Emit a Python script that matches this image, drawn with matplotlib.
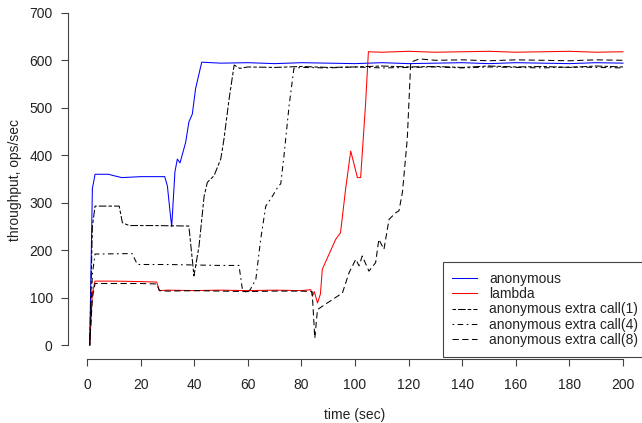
import matplotlib
matplotlib.use("Agg")
import matplotlib.pyplot as plt

plt.rcParams['font.family'] = ['Liberation Sans', 'DejaVu Sans']
plt.rcParams['font.size'] = 10
plt.rcParams['lines.scale_dashes'] = False

# anonymous (blue)
t_anon = [1, 2, 3, 8, 10, 13, 20, 29, 30, 31, 31.6, 32.8, 33.7, 34.7, 36.8, 38, 39.3, 40.5, 42.8,
          50, 60, 70, 80, 90, 100, 110, 120, 130, 140, 150, 160, 170, 180, 190, 200]
v_anon = [0, 330, 360, 360, 357, 353, 355, 355, 335, 280, 250, 365, 392, 384, 427, 470, 487, 540, 596,
          594, 595, 593, 595, 594, 593, 595, 593, 594, 595, 593, 595, 594, 593, 595, 594]

# lambda (red)
t_lambda = [1, 2, 3, 10, 20, 26, 27, 30, 40, 50, 60, 70, 80, 83.5, 84.1, 84.8, 86, 87.1, 87.8,
            92.8, 94.6, 96.5, 98.4, 100.9, 102.1, 103.9, 105, 110, 120, 130, 140, 150, 160,
            170, 180, 190, 200]
v_lambda = [0, 110, 135, 135, 134, 133, 115, 116, 115, 116, 115, 116, 115, 117, 103, 113, 89, 108, 160,
            223, 237, 329, 409, 353, 353, 504, 618, 617, 619, 617, 618, 619, 617,
            618, 619, 617, 618]

# anonymous extra call(1)
t_extra1 = [1, 2, 3, 12, 13.2, 15.7, 25, 38, 39.9, 41.8, 43.7, 44.9, 47.4, 49.9, 51.1, 53, 54.9,
            57, 60, 70, 80, 90, 100, 110, 120, 130, 140, 150, 160, 170, 180, 190, 200]
v_extra1 = [0, 250, 293, 293, 258, 252, 252, 251, 146, 209, 314, 343, 357, 392, 434, 518, 590,
            583, 586, 585, 587, 585, 586, 588, 586, 587, 585, 588, 586, 587, 585, 588, 586]

# anonymous extra call(4)
t_extra4 = [1, 2, 3, 16.8, 18.8, 30, 40, 50, 56.7, 58, 59.8, 61, 63, 64.8, 66.7, 69.2, 71.4,
            72.3, 73.5, 75.4, 77.2, 80, 90, 100, 110, 120, 130, 140, 150, 160, 170, 180, 190, 200]
v_extra4 = [0, 150, 192, 193, 170, 170, 169, 168, 168, 117, 110, 118, 139, 223, 293, 314, 335,
            340, 399, 504, 583, 585, 584, 586, 584, 585, 586, 584, 586, 585, 584, 586, 585, 584]

# anonymous extra call(8)
t_extra8 = [1, 2, 3, 10, 20, 26, 27, 30, 40, 50, 60, 70, 80, 84, 85, 86, 87.8, 95.3, 97.8, 100.3,
            101.5, 102.7, 105.2, 107.7, 108.9, 110.8, 112.7, 115.2, 116.4, 117.7, 119.5, 120.8,
            124, 130, 140, 150, 160, 170, 180, 190, 200]
v_extra8 = [0, 100, 130, 130, 130, 129, 115, 114, 115, 114, 113, 114, 114, 113, 15, 75, 82, 110, 153,
            181, 167, 188, 156, 174, 223, 202, 265, 279, 283, 322, 434, 596,
            603, 600, 601, 599, 601, 600, 599, 601, 600]

fig = plt.figure(figsize=(6.42, 4.23), dpi=100)
ax = fig.add_axes([68 / 642, 64 / 423, 574 / 642, 359 / 423])

lw = 0.75
ax.plot(t_anon, v_anon, color='blue', lw=lw, label='anonymous')
ax.plot(t_lambda, v_lambda, color='red', lw=lw, label='lambda')
ax.plot(t_extra1, v_extra1, color='black', lw=lw, linestyle=(0, (2.5, 1.5, 5.5, 1.5)),
        label='anonymous extra call(1)')
ax.plot(t_extra4, v_extra4, color='black', lw=lw, linestyle=(0, (1.2, 2.5, 4, 2.5)),
        label='anonymous extra call(4)')
ax.plot(t_extra8, v_extra8, color='black', lw=lw, linestyle=(0, (4.5, 2.5)),
        label='anonymous extra call(8)')

ax.set_xlim(-7.1, 207.1)
ax.set_ylim(-29, 727)
ax.set_xticks(range(0, 201, 20))
ax.set_yticks(range(0, 701, 100))

axis_col = '#444444'
for side in ['top', 'right']:
    ax.spines[side].set_visible(False)
ax.spines['left'].set_bounds(0, 700)
ax.spines['bottom'].set_bounds(0, 200)
for side in ['left', 'bottom']:
    ax.spines[side].set_color(axis_col)
    ax.spines[side].set_linewidth(0.8)
ax.tick_params(direction='out', length=5, width=0.8, color=axis_col, labelsize=10,
               labelcolor='#222222')
ax.tick_params(axis='x', pad=9)
ax.tick_params(axis='y', pad=6)

fig.text(355 / 642, 1 - 415 / 423, 'time (sec)', ha='center', va='center', fontsize=10,
         color='#222222')
fig.text(15 / 642, 1 - 180 / 423, 'throughput, ops/sec', ha='center', va='center',
         rotation=90, fontsize=10, color='#222222')

leg = ax.legend(loc='lower right', bbox_to_anchor=(1.014, 0.0), fontsize=10, frameon=True,
                fancybox=False, handlelength=1.8, handletextpad=0.85, labelspacing=0.1,
                borderpad=0.7, borderaxespad=0.15, labelcolor='#222222')
leg.get_frame().set_edgecolor(axis_col)
leg.get_frame().set_linewidth(0.8)
leg.get_frame().set_alpha(1)

fig.savefig('out.png', dpi=100)
